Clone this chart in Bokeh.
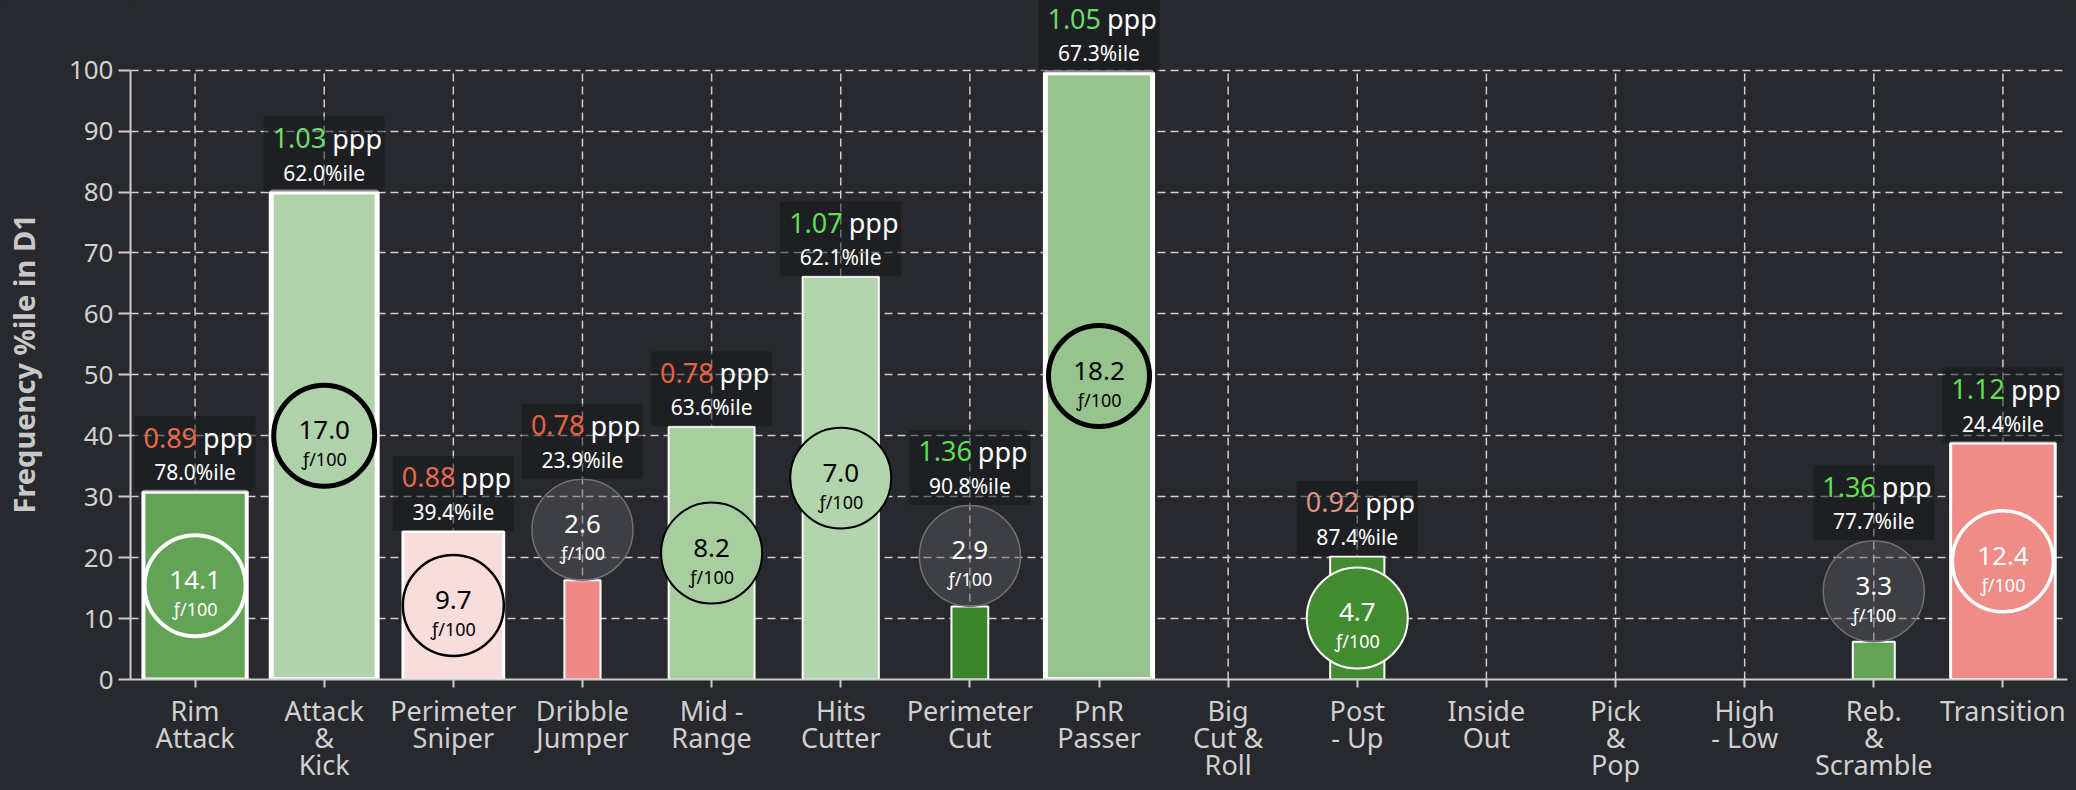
import math
from bokeh.plotting import figure
from bokeh.models import Range1d, FixedTicker, ColumnDataSource, GlobalInlineStyleSheet, Title
from bokeh.core.properties import value
from bokeh.embed import file_html
from bokeh.resources import INLINE

# ---------------- data ----------------
categories = ["Rim\nAttack", "Attack\n&\nKick", "Perimeter\nSniper", "Dribble\nJumper",
              "Mid -\nRange", "Hits\nCutter", "Perimeter\nCut", "PnR\nPasser",
              "Big\nCut &\nRoll", "Post\n- Up", "Inside\nOut", "Pick\n&\nPop",
              "High\n- Low", "Reb.\n&\nScramble", "Transition"]
freq_pctile = [30.8, 80.0, 24.3, 16.3, 41.5, 66.1, 12.0, 99.6, None, 20.2, None, None, None, 6.2, 38.8]
freq_per100 = [14.1, 17.0, 9.7, 2.6, 8.2, 7.0, 2.9, 18.2, None, 4.7, None, None, None, 3.3, 12.4]
ppp = [0.89, 1.03, 0.88, 0.78, 0.78, 1.07, 1.36, 1.05, None, 0.92, None, None, None, 1.36, 1.12]
ppp_pctile = [78.0, 62.0, 39.4, 23.9, 63.6, 62.1, 90.8, 67.3, None, 87.4, None, None, None, 77.7, 24.4]
width_share = [0.80, 0.82, 0.78, 0.28, 0.665, 0.59, 0.285, 0.83, None, 0.42, None, None, None, 0.325, 0.81]
y_ticks = list(range(0, 101, 10))
y_title = "Frequency %ile in D1"

# ---------------- styles ----------------
bar_colors = ["#62a356", "#b0d2ab", "#f9dcdc", "#f08a87", "#a8cea0", "#b2d5ad", "#3d852b",
              "#97c48e", None, "#438b31", None, None, None, "#62a356", "#f08c88"]
bar_line_w = [4, 5, 3, 2, 2, 2, 2, 5, 0, 2, 0, 0, 0, 2, 3]
circle_line_colors = ["white", "black", "black", None, "black", "black", None, "black",
                      None, "white", None, None, None, None, "white"]
circle_line_w = [4, 5, 2.5, 1.5, 2, 2, 1.5, 5, 0, 2, 0, 0, 0, 1.5, 3.5]
circle_text_colors = ["white", "black", "black", "white", "black", "black", "white", "black",
                      None, "white", None, None, None, "white", "white"]
ppp_colors = ["#e8684c", "#6edc68", "#e8684c", "#e8623f", "#e8623f", "#60df52", "#5cdf50",
              "#6ed868", None, "#de9383", None, None, None, "#5cdf50", "#60df52"]

BG = "#27292e"
GRID = "#cfcfcf"
TXT = "#d0d0d0"
FONT = "Noto Sans"
FRAME_W, FRAME_H = 1937, 679
PX_PER_UNIT = 6.093
Y_END = FRAME_H / PX_PER_UNIT
CIRCLE_D = 101
BOX_W, BOX_H = 121, 75

p = figure(frame_width=FRAME_W, frame_height=FRAME_H,
           x_range=Range1d(-0.5, len(categories) - 0.5), y_range=Range1d(0, Y_END),
           output_backend="svg", toolbar_location=None,
           min_border_left=130, min_border_right=1, min_border_top=0, min_border_bottom=100,
           background_fill_color=BG, border_fill_color=BG, outline_line_color=None)
p.stylesheets = [GlobalInlineStyleSheet(css="body { background: %s; }" % BG)]

# grid
p.xgrid.visible = False
p.ygrid.grid_line_color = GRID
p.ygrid.grid_line_dash = "8 5"
p.ygrid.grid_line_width = 1.5
idx = list(range(len(categories)))
p.segment(x0=idx, y0=[y_ticks[0]] * len(idx), x1=idx, y1=[y_ticks[-1]] * len(idx),
          line_color=GRID, line_dash="8 5", line_width=1.5, level="underlay")

# rows
rows = dict(x=[], h=[], w=[], fill=[], lw=[], cy=[], cfill=[], calpha=[], cline=[], clw=[],
            ctc=[], base=[], boxy=[], num=[], pppt=[], pppc=[], pct=[])
for i, h in enumerate(freq_pctile):
    if h is None:
        continue
    on_top = h * PX_PER_UNIT < CIRCLE_D + 2
    if on_top:
        cy = h + CIRCLE_D / 2 / PX_PER_UNIT
        base = h + CIRCLE_D / PX_PER_UNIT
    else:
        cy = h / 2
        base = h
    rows["x"].append(i)
    rows["h"].append(h)
    rows["w"].append(width_share[i])
    rows["fill"].append(bar_colors[i])
    rows["lw"].append(bar_line_w[i])
    rows["cy"].append(cy)
    rows["cfill"].append("#5a5b60" if on_top else bar_colors[i])
    rows["calpha"].append(0.45 if on_top else 1.0)
    rows["cline"].append("#707176" if on_top else circle_line_colors[i])
    rows["clw"].append(circle_line_w[i])
    rows["ctc"].append(circle_text_colors[i])
    rows["base"].append(base)
    rows["boxy"].append(base + (BOX_H / 2 + 0.5) / PX_PER_UNIT)
    rows["num"].append("%.1f" % freq_per100[i])
    rows["pppt"].append("%.2f" % ppp[i])
    rows["pppc"].append(ppp_colors[i])
    rows["pct"].append("%.1f%%ile" % ppp_pctile[i])
src = ColumnDataSource(rows)

p.vbar(x="x", top="h", bottom=0, width="w", fill_color="fill", line_color="white",
       line_width="lw", source=src)
p.scatter(x="x", y="cy", size=CIRCLE_D, marker="circle", fill_color="cfill",
          fill_alpha="calpha", line_color="cline", line_width="clw", source=src)
p.text(x="x", y="cy", text="num", text_color="ctc", text_font=value(FONT),
       text_font_size="26px", text_align="center", text_baseline="middle",
       y_offset=-5.5, source=src)
p.text(x="x", y="cy", text=value("ƒ/100"), text_color="ctc", text_font=value(FONT),
       text_font_size="18px", text_align="center", text_baseline="middle",
       y_offset=23.5, source=src)

# label boxes
p.rect(x="x", y="boxy", width=BOX_W, height=BOX_H, width_units="screen", height_units="screen",
       fill_color="#141518", fill_alpha=0.5, line_color=None, source=src)
p.text(x="x", y="base", text="pppt", text_color="pppc", text_font=value(FONT),
       text_font_size="27px", text_align="right", text_baseline="middle",
       x_offset=2, y_offset=-54, source=src)
p.text(x="x", y="base", text=value("ppp"), text_color="white", text_font=value(FONT),
       text_font_size="27px", text_align="left", text_baseline="middle",
       x_offset=8, y_offset=-54, source=src)
p.text(x="x", y="base", text="pct", text_color="white", text_font=value(FONT),
       text_font_size="21px", text_align="center", text_baseline="middle",
       y_offset=-19.5, source=src)

# axes
for ax in (p.xaxis[0], p.yaxis[0]):
    ax.axis_line_color = "#cccccc"
    ax.axis_line_width = 2
    ax.major_tick_line_color = "#cccccc"
    ax.major_tick_line_width = 2
    ax.major_tick_in = 0
    ax.minor_tick_line_color = None
    ax.major_label_text_color = TXT
    ax.major_label_text_font = FONT

p.xaxis.ticker = FixedTicker(ticks=idx)
p.xaxis.major_label_overrides = {i: c for i, c in enumerate(categories)}
p.xaxis.major_label_text_font_size = "27px"
p.xaxis.major_label_text_line_height = 0.735
p.xaxis.major_tick_out = 8
p.xaxis.major_label_standoff = 4

p.yaxis.ticker = FixedTicker(ticks=y_ticks)
p.yaxis.bounds = (y_ticks[0], y_ticks[-1])
p.yaxis.major_label_text_font_size = "26px"
p.yaxis.major_tick_out = 12
p.yaxis.major_label_standoff = 5
p.ygrid.ticker = FixedTicker(ticks=y_ticks)
# blank spacer label: widens the axis panel so the title sits at the outer edge
p.yaxis.axis_label = "\u00a0"
p.yaxis.axis_label_text_font_size = "10px"
p.yaxis.axis_label_standoff = 9

# y title: placed from the bottom of the frame so it is centred on the 0-100 part
p.add_layout(Title(text=y_title, align="left", offset=166, standoff=0,
                   text_font=FONT, text_font_size="29px", text_font_style="bold",
                   text_color="#c8c8c8"), "left")

open("out.html", "w").write(file_html(p, INLINE))
